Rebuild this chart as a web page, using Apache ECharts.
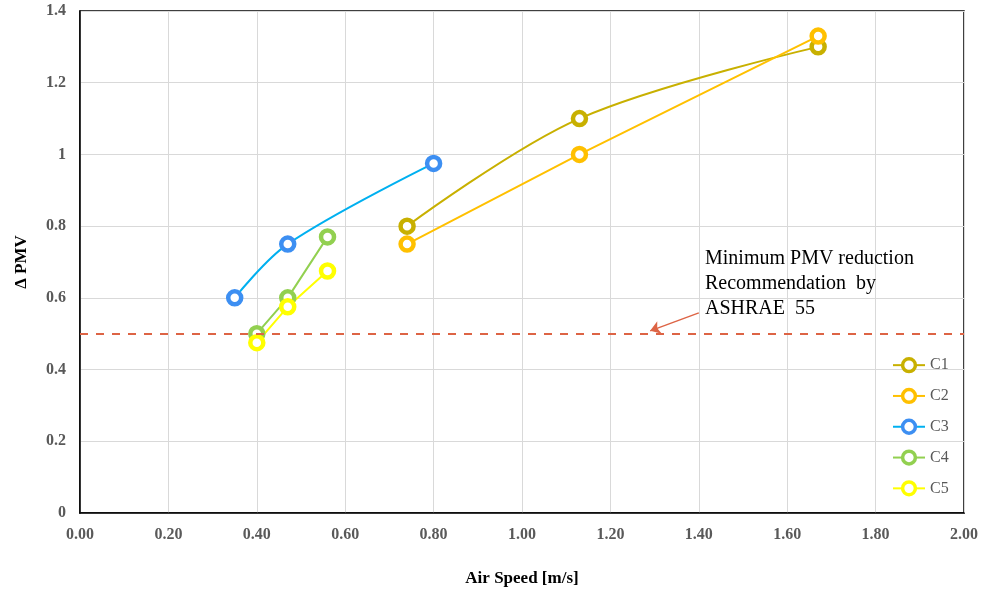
<!DOCTYPE html>
<html><head><meta charset="utf-8">
<script src="https://cdn.jsdelivr.net/npm/echarts@6/dist/echarts.min.js"></script>
<style>html,body{margin:0;padding:0;background:#fff}#c{width:984px;height:592px}</style>
</head><body><div id="c"></div>
<script>
const seriesNames = ['C1','C2','C3','C4','C5'];
const c1 = [[0.74,0.80],[1.13,1.10],[1.67,1.30]];
const c2 = [[0.74,0.75],[1.13,1.00],[1.67,1.33]];
const c3 = [[0.35,0.60],[0.47,0.75],[0.80,0.975]];
const c4 = [[0.40,0.50],[0.47,0.60],[0.56,0.77]];
const c5 = [[0.40,0.475],[0.47,0.575],[0.56,0.675]];
const thresholdValue = 0.5;
const annotationLines = ['Minimum PMV reduction','Recommendation  by','ASHRAE  55'];
const arrowFrom = [1.40, 0.558];
const arrowTo = [1.29, 0.508];

const font = 'Liberation Serif, Times New Roman, serif';
const lineColors = ['#c8b000','#ffc000','#00b0f0','#92d050','#ffff00'];
const markerColors = ['#c8b000','#ffc000','#3d8ff2','#92d050','#ffff00'];
const smooths = [0.35,false,0.35,false,false];
const datas = [c1,c2,c3,c4,c5];

const series = datas.map((d,i)=>({
  name: seriesNames[i], type:'line', data:d, smooth:smooths[i],
  symbol:'circle', symbolSize:13,
  lineStyle:{color:lineColors[i], width:2},
  itemStyle:{color:'#fff', borderColor:markerColors[i], borderWidth:4.5},
  z: 3
}));
series.push({
  type:'line', data:[], silent:true,
  markLine:{
    silent:true, symbol:'none',
    label:{show:false},
    lineStyle:{color:'#dd6445', type:[8,8], width:2},
    data:[
      [{xAxis:0, yAxis:thresholdValue}, {xAxis:2, yAxis:thresholdValue}]
    ]
  }
});
series.push({
  type:'line', data:[], silent:true,
  markLine:{
    silent:true, symbol:['none','arrow'], symbolSize:10,
    label:{show:false},
    lineStyle:{color:'#dd6445', type:'solid', width:1.5},
    data:[
      [{coord:arrowFrom}, {coord:arrowTo}]
    ]
  }
});

const chart = echarts.init(document.getElementById('c'));
chart.setOption({
  animation:false,
  grid:{left:80, right:20, top:11, bottom:79, show:true, borderColor:'#000', borderWidth:1.5},
  legend:{
    orient:'vertical', left:887, top:352, itemGap:14.5, itemWidth:32, itemHeight:16,
    data:seriesNames,
    itemStyle:{borderWidth:3.5},
    textStyle:{fontFamily:font, fontSize:16, color:'#595959'}
  },
  xAxis:{
    type:'value', min:0, max:2, interval:0.2,
    name:'Air Speed [m/s]', nameLocation:'middle', nameGap:57,
    nameTextStyle:{fontFamily:font, fontSize:17, fontWeight:'bold', color:'#000'},
    axisLine:{lineStyle:{color:'#000', width:1.5}},
    axisTick:{show:false},
    axisLabel:{fontFamily:font, fontSize:16, fontWeight:'bold', color:'#595959', margin:14,
      formatter:v=>v.toFixed(2)},
    splitLine:{lineStyle:{color:'#d9d9d9', width:1}}
  },
  yAxis:{
    type:'value', min:0, max:1.4, interval:0.2,
    name:'Δ PMV', nameLocation:'middle', nameGap:50,
    nameTextStyle:{fontFamily:font, fontSize:17, fontWeight:'bold', color:'#000'},
    axisLine:{lineStyle:{color:'#000', width:1.5}},
    axisTick:{show:false},
    axisLabel:{fontFamily:font, fontSize:16, fontWeight:'bold', color:'#595959', margin:14,
      formatter:v=>String(Math.round(v*10)/10)},
    splitLine:{lineStyle:{color:'#d9d9d9', width:1}}
  },
  graphic:[{
    type:'text', left:705, top:246, z:10,
    style:{text:annotationLines.join('\n'), fontFamily:font, fontSize:20, lineHeight:25, fill:'#000'}
  }],
  series:series
});
</script></body></html>
